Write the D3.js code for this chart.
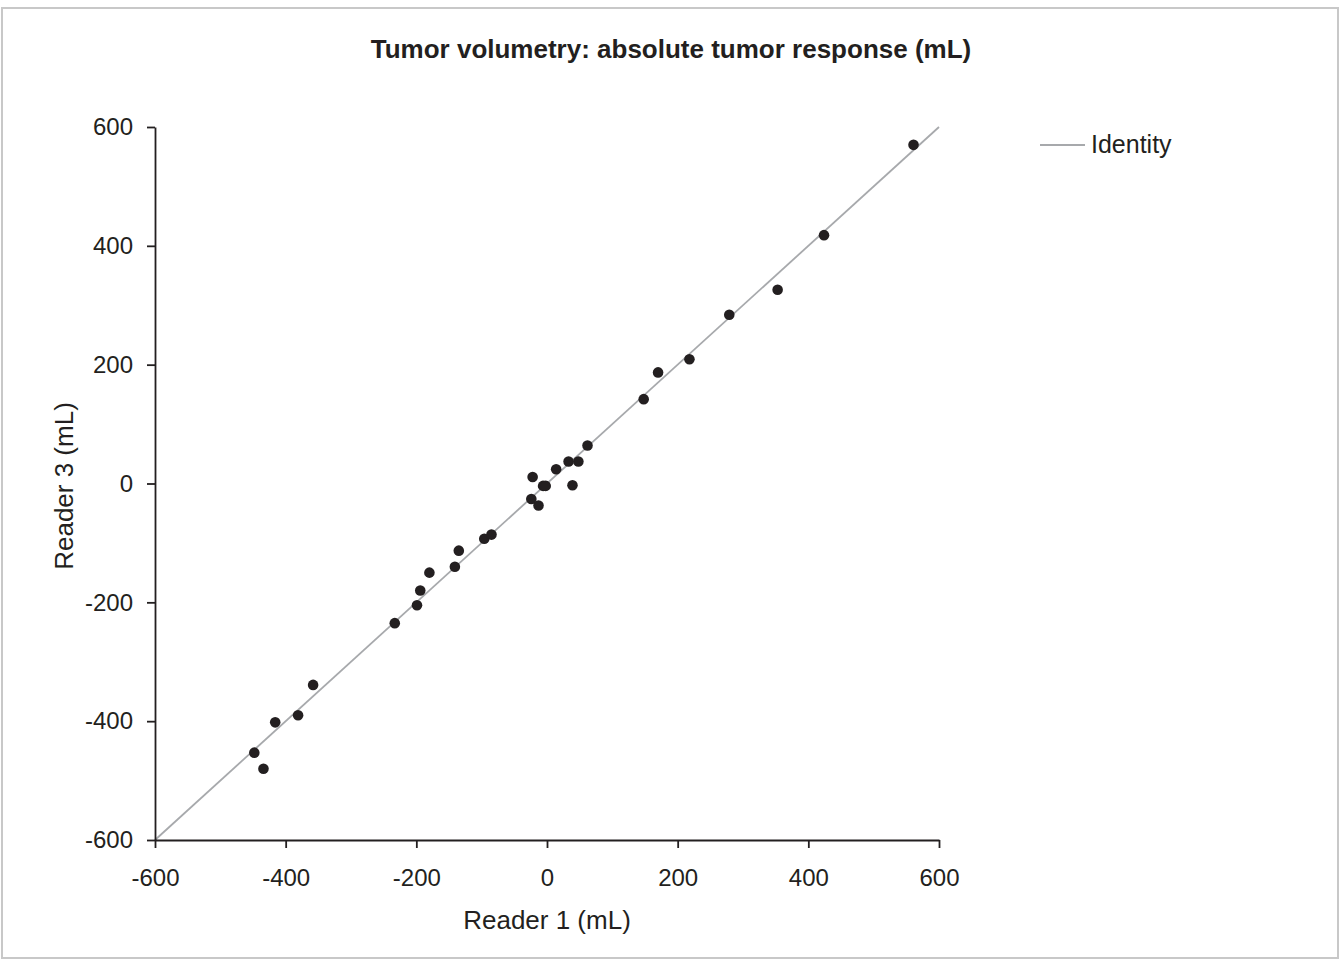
<!DOCTYPE html>
<html>
<head>
<meta charset="utf-8">
<script src="https://cdn.jsdelivr.net/npm/d3@7"></script>
<style>
  body { margin: 0; background: #fff; }
  text { font-family: "Liberation Sans", Arial, sans-serif; fill: #231f20; }
</style>
</head>
<body>
<div id="container"></div>
<script>
/* CONSTANTS */
const width = 1341,
  height = 960,
  margin = { top: 127, bottom: 120, left: 155, right: 402 };

/* DATA */
const reader1 = [-448, -434, -416, -381, -358, -233, -199, -194, -180, -141,
  -135, -96, -85, -24, -13, -22, -6, -2, 14, 33, 48, 39, 62, 148, 170, 218,
  279, 353, 424, 561];
const reader3 = [-453, -480, -402, -390, -339, -235, -205, -180, -150, -140,
  -113, -93, -86, -26, -37, 11, -4, -4, 24, 37, 37, -3, 64, 142, 187, 209,
  284, 326, 418, 570];
const ticks = [-600, -400, -200, 0, 200, 400, 600];
const identity = [-600, 600];

const points = reader1.map((d, i) => ({ x: d, y: reader3[i] }));

// SCALES
const xScale = d3.scaleLinear()
  .domain([-600, 600])
  .range([margin.left, 939]);

const yScale = d3.scaleLinear()
  .domain([-600, 600])
  .range([840, margin.top]);

// SVG
const svg = d3.select("#container")
  .append("svg")
  .attr("width", width)
  .attr("height", height);

// frame
svg.append("rect")
  .attr("x", 2).attr("y", 8)
  .attr("width", width - 5).attr("height", height - 10)
  .attr("fill", "none")
  .attr("stroke", "#c8c8c8")
  .attr("stroke-width", 2);

// title
svg.append("text")
  .attr("x", 671).attr("y", 58)
  .attr("text-anchor", "middle")
  .attr("font-size", 26)
  .attr("font-weight", "bold")
  .text("Tumor volumetry: absolute tumor response (mL)");

// identity line
svg.append("line")
  .attr("x1", xScale(identity[0])).attr("y1", yScale(identity[0]))
  .attr("x2", xScale(identity[1])).attr("y2", yScale(identity[1]))
  .attr("stroke", "#a7a9ac")
  .attr("stroke-width", 1.8);

// AXES
const fmt = d => String(d);
const xAxis = d3.axisBottom(xScale).tickValues(ticks).tickFormat(fmt)
  .tickSize(8).tickPadding(21).tickSizeOuter(0);
const yAxis = d3.axisLeft(yScale).tickValues(ticks).tickFormat(fmt)
  .tickSize(8).tickPadding(14).tickSizeOuter(0);

const gx = svg.append("g")
  .attr("transform", `translate(0,${yScale(-600)})`)
  .call(xAxis);

const gy = svg.append("g")
  .attr("transform", `translate(${xScale(-600)},0)`)
  .call(yAxis);

[gx, gy].forEach(g => {
  g.selectAll("path, line").attr("stroke", "#231f20").attr("stroke-width", 1.8);
  g.selectAll("text")
    .attr("font-size", 24)
    .attr("font-family", "'Liberation Sans', Arial, sans-serif")
    .attr("fill", "#231f20");
});

svg.append("text")
  .attr("x", xScale(0)).attr("y", 929)
  .attr("text-anchor", "middle")
  .attr("font-size", 26)
  .text("Reader 1 (mL)");

svg.append("text")
  .attr("transform", `translate(73,486) rotate(-90)`)
  .attr("text-anchor", "middle")
  .attr("font-size", 26)
  .text("Reader 3 (mL)");

// POINTS
svg.append("g")
  .selectAll("circle")
  .data(points)
  .join("circle")
  .attr("cx", d => xScale(d.x))
  .attr("cy", d => yScale(d.y))
  .attr("r", 5.3)
  .attr("fill", "#231f20");

// LEGEND
svg.append("line")
  .attr("x1", 1040).attr("x2", 1085)
  .attr("y1", 145).attr("y2", 145)
  .attr("stroke", "#a7a9ac")
  .attr("stroke-width", 1.8);

svg.append("text")
  .attr("x", 1091).attr("y", 153)
  .attr("font-size", 25)
  .text("Identity");
</script>
</body>
</html>
